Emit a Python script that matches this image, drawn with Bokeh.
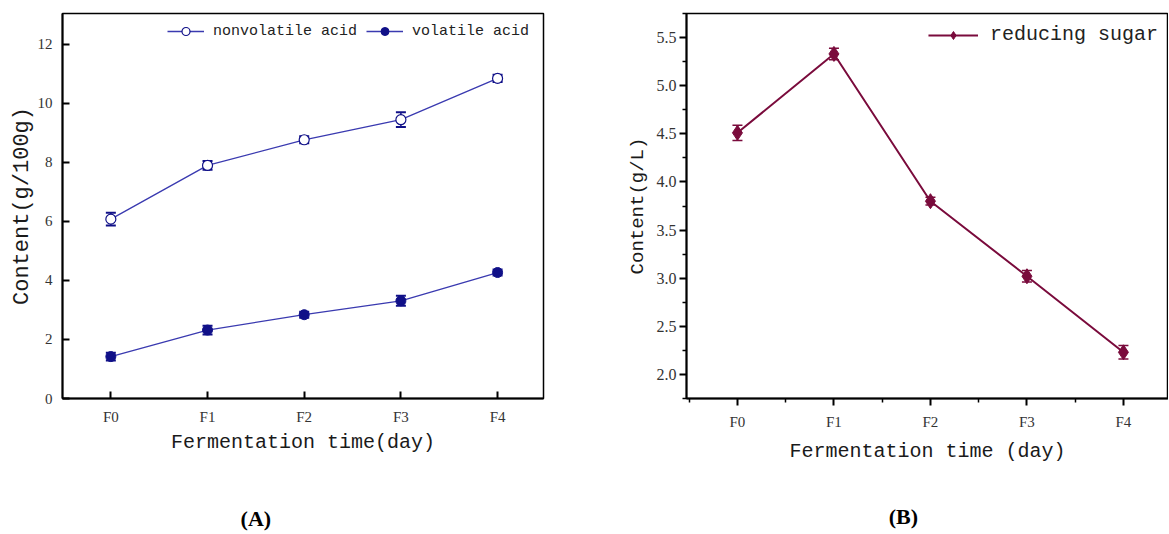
from bokeh.plotting import figure
from bokeh.models import FixedTicker, Whisker, ColumnDataSource, LinearAxis, TeeHead, Range1d
from bokeh.layouts import row
from bokeh.embed import file_html
from bokeh.resources import INLINE

# ---------------- data ----------------
categories = ["F0", "F1", "F2", "F3", "F4"]
nonvolatile = [6.08, 7.90, 8.77, 9.45, 10.85]
nonvolatile_err = [0.22, 0.15, 0.12, 0.25, 0.12]
volatile = [1.42, 2.32, 2.84, 3.31, 4.27]
volatile_err = [0.13, 0.15, 0.10, 0.17, 0.10]
sugar = [4.51, 5.33, 3.80, 3.02, 2.23]
sugar_err = [0.08, 0.06, 0.04, 0.06, 0.07]
y_ticks_a = [0, 2, 4, 6, 8, 10, 12]
y_ticks_b = [2.0, 2.5, 3.0, 3.5, 4.0, 4.5, 5.0, 5.5]

xs = list(range(len(categories)))
overrides = {i: c for i, c in enumerate(categories)}

MONO = "Liberation Mono"
SERIF = "Liberation Serif"
BLUE_LINE = "#3a3ab0"
NAVY = "#101088"
MAROON = "#7a0b3c"
H = 533


def src(vals, errs):
    return ColumnDataSource(dict(
        x=xs, y=vals,
        up=[v + e for v, e in zip(vals, errs)],
        lo=[v - e for v, e in zip(vals, errs)],
    ))


def style(p):
    p.xgrid.visible = False
    p.ygrid.visible = False
    p.outline_line_color = "black"
    p.outline_line_width = 1.5
    p.outline_line_alpha = 1
    for ax in (p.xaxis[0], p.yaxis[0]):
        ax.axis_line_width = 2
        ax.major_tick_line_width = 2
        ax.minor_tick_line_width = 1.5
        ax.major_label_text_font = SERIF
        ax.major_label_text_font_size = "15px"
        ax.major_label_text_color = "#333333"
        ax.axis_label_text_font = MONO
        ax.axis_label_text_font_style = "normal"
        ax.axis_label_text_color = "#1a1a1a"


def panel_label(p, x, text, standoff):
    # an extra, line-less axis below the main one carries the panel tag
    ax = LinearAxis(ticker=FixedTicker(ticks=[x], minor_ticks=[]),
                    major_label_overrides={x: text},
                    axis_line_color=None, major_tick_line_color=None, minor_tick_line_color=None,
                    major_label_standoff=standoff, major_label_text_font=SERIF,
                    major_label_text_font_style="bold", major_label_text_font_size="22px",
                    major_label_text_color="black")
    p.add_layout(ax, "below")


# ---------------- panel A ----------------
pa = figure(width=608, height=H, output_backend="svg", toolbar_location=None,
            x_range=Range1d(-0.5, 4.475), y_range=Range1d(0, 13.05),
            min_border_left=62, min_border_right=65, min_border_top=13, min_border_bottom=H - 398)
style(pa)
pa.xaxis.ticker = FixedTicker(ticks=xs, minor_ticks=[])
pa.xaxis.major_label_overrides = overrides
pa.yaxis.ticker = FixedTicker(ticks=y_ticks_a, minor_ticks=[])
for ax in (pa.xaxis[0], pa.yaxis[0]):
    ax.major_tick_in = 7
    ax.major_tick_out = 0
    ax.minor_tick_line_color = None
    ax.major_label_standoff = 10
pa.xaxis.axis_label = "Fermentation time(day)"
pa.xaxis.axis_label_text_font_size = "20px"
pa.xaxis.axis_label_standoff = 3
pa.yaxis.axis_label = "Content(g/100g)"
pa.yaxis.axis_label_text_font_size = "22px"
pa.yaxis.axis_label_standoff = 0

s_nv = src(nonvolatile, nonvolatile_err)
s_v = src(volatile, volatile_err)
for s in (s_nv, s_v):
    pa.add_layout(Whisker(base="x", upper="up", lower="lo", source=s, line_color=NAVY, line_width=1.5,
                          upper_head=TeeHead(size=10, line_color=NAVY, line_width=2),
                          lower_head=TeeHead(size=10, line_color=NAVY, line_width=2)))
pa.line("x", "y", source=s_nv, line_color=BLUE_LINE, line_width=1.3, legend_label="nonvolatile acid")
pa.scatter("x", "y", source=s_nv, marker="circle", size=10, fill_color="white", line_color=NAVY,
           line_width=1.2, legend_label="nonvolatile acid")
pa.line("x", "y", source=s_v, line_color=BLUE_LINE, line_width=1.3, legend_label="volatile acid")
pa.scatter("x", "y", source=s_v, marker="circle", size=10, fill_color=NAVY, line_color=NAVY,
           legend_label="volatile acid")
pa.legend.orientation = "horizontal"
pa.legend.border_line_color = None
pa.legend.background_fill_alpha = 0
pa.legend.label_text_font = MONO
pa.legend.label_text_font_size = "15px"
pa.legend.label_text_color = "#222222"
pa.legend.glyph_width = 37
pa.legend.label_standoff = 9
pa.legend.spacing = 9
pa.legend.margin = 0
pa.legend.padding = 0
pa.legend.location = (481 - 376, 385 - 28)
panel_label(pa, 1.5, "(A)", 43)

# ---------------- panel B ----------------
pb = figure(width=560, height=H, output_backend="svg", toolbar_location=None,
            x_range=Range1d(-0.528, 4.467), y_range=Range1d(1.75, 5.75),
            min_border_left=78, min_border_right=0, min_border_top=11, min_border_bottom=H - 400)
style(pb)
pb.xaxis.ticker = FixedTicker(ticks=xs, minor_ticks=[x - 0.5 for x in xs] + [xs[-1] + 0.5])
pb.xaxis.major_label_overrides = overrides
pb.yaxis.ticker = FixedTicker(ticks=y_ticks_b,
                              minor_ticks=[t - 0.25 for t in y_ticks_b] + [y_ticks_b[-1] + 0.25])
pb.yaxis.major_label_overrides = {t: f"{t:.1f}" for t in y_ticks_b}
for ax in (pb.xaxis[0], pb.yaxis[0]):
    ax.major_tick_in = 0
    ax.major_tick_out = 7
    ax.minor_tick_in = 0
    ax.minor_tick_out = 4
pb.xaxis.major_label_standoff = 8
pb.yaxis.major_label_standoff = 3
pb.yaxis.major_label_text_font_size = "16px"
pb.xaxis.axis_label = "Fermentation time (day)"
pb.xaxis.axis_label_text_font_size = "20px"
pb.xaxis.axis_label_standoff = 7
pb.yaxis.axis_label = "Content(g/L)"
pb.yaxis.axis_label_text_font_size = "19px"
pb.yaxis.axis_label_standoff = 5

s_s = src(sugar, sugar_err)
pb.add_layout(Whisker(base="x", upper="up", lower="lo", source=s_s, line_color=MAROON, line_width=1.5,
                      upper_head=TeeHead(size=10, line_color=MAROON, line_width=1.5),
                      lower_head=TeeHead(size=10, line_color=MAROON, line_width=1.5)))
pb.line("x", "y", source=s_s, line_color=MAROON, line_width=2, legend_label="reducing sugar")
pb.scatter("x", "y", source=s_s, marker="diamond", size=15, fill_color=MAROON, line_color=MAROON,
           legend_label="reducing sugar")
pb.legend.orientation = "horizontal"
pb.legend.location = "top_right"
pb.legend.border_line_color = None
pb.legend.background_fill_alpha = 0
pb.legend.label_text_font = MONO
pb.legend.label_text_font_size = "20px"
pb.legend.label_text_color = "#222222"
pb.legend.glyph_width = 50
pb.legend.label_standoff = 12
pb.legend.margin = 10
pb.legend.padding = 4
panel_label(pb, 1.72, "(B)", 32)

layout = row(pa, pb)
open("out.html", "w").write(file_html(layout, INLINE))
